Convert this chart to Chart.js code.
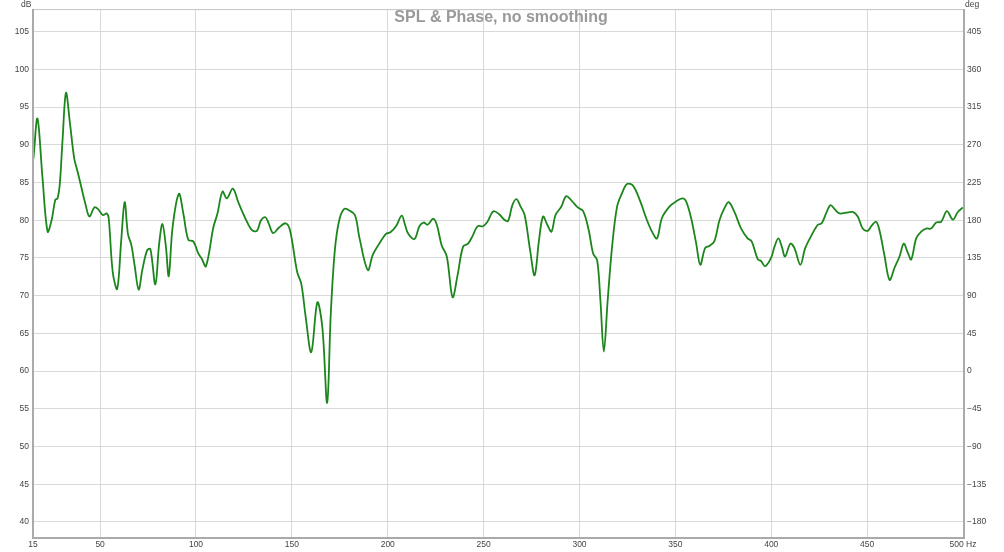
<!DOCTYPE html>
<html>
<head>
<meta charset="utf-8">
<script src="https://cdn.jsdelivr.net/npm/chart.js@4/dist/chart.umd.min.js"></script>
<style>
html,body{margin:0;padding:0;background:#fff;}
#wrap{width:1004px;height:552px;position:relative;}
</style>
</head>
<body>
<div id="wrap"><canvas id="c" width="1004" height="552"></canvas></div>
<script>
const freqHz = [15,15.2,17.3,19.9,22.6,24.7,26.6,27.8,29.0,30.4,32.2,34.3,36.5,38.3,40.0,42.3,44.4,47.0,48.8,51.4,53.5,54.5,56.6,58.9,61.0,62.8,64.5,66.3,68.0,70.1,72.0,74.5,76.2,78.8,80.8,82.5,84.3,85.8,87.8,91.1,93.4,96.0,98.6,101.2,103.0,105.2,109.1,111.2,113.8,116.1,119.2,122.2,126.2,129.2,131.8,133.9,136.2,137.9,140.2,143.2,146.7,149.0,152.8,154.9,157.2,160.1,163.3,165.9,168.4,170.3,172.4,174.7,177.3,179.9,182.9,185.3,189.6,192.2,195.1,199.1,201.4,204.3,207.3,209.0,210.7,213.9,216.5,218.7,220.8,223.7,225.6,228.1,230.8,233.8,236.4,239.3,241.9,244.2,246.8,249.7,252.0,255.1,258.1,260.7,262.7,265.0,267.1,269.3,271.4,274.2,276.6,278.9,281.0,283.2,285.4,287.5,290.5,293.1,296.2,299.1,301.9,304.8,307.1,309.2,310.9,312.7,314.7,317.0,319.6,322.2,324.8,327.9,331.4,335.2,337.8,340.4,343.0,346.9,350.3,353.8,355.6,358.2,360.8,363.0,365.5,367.7,370.3,373.0,375.6,377.8,380.8,384.3,387.7,389.8,393.0,394.7,396.8,399.9,401.7,403.7,405.5,407.2,410.0,412.1,415.2,417.7,420.8,424.3,426.3,428.6,430.9,433.3,435.6,439.0,442.5,445.1,447.7,450.3,452.4,454.7,456.4,459.0,461.7,464.3,466.9,469.1,471.2,473.0,475.6,478.2,480.8,483.4,486.0,488.6,491.6,494.7,497.3,499.9];
const splDb = [88.9,88.2,93.5,85.8,78.5,80.0,82.7,82.9,84.9,90.6,96.9,92.8,88.2,86.4,84.6,82.2,80.5,81.7,81.5,80.7,80.9,80.2,73.1,70.9,77.3,82.4,78.2,76.7,74.0,70.8,73.4,76.0,76.2,71.5,76.9,79.5,76.5,72.6,79.1,83.5,80.9,77.4,77.2,75.6,74.9,73.9,79.1,80.9,83.8,82.9,84.2,82.3,80.0,78.7,78.6,80.0,80.4,79.6,78.3,79.0,79.6,78.7,73.1,71.6,67.2,62.5,69.1,65.8,55.8,67.6,76.0,80.0,81.5,81.3,80.7,77.6,73.4,75.4,76.7,78.2,78.4,79.2,80.6,79.4,78.2,77.5,79.2,79.7,79.4,80.2,79.4,76.7,75.2,69.8,72.7,76.5,76.9,77.9,79.2,79.2,79.8,81.2,80.8,80.1,79.9,82.0,82.8,81.8,80.7,76.1,72.7,77.4,80.5,79.4,78.5,80.7,81.8,83.2,82.5,81.7,81.2,78.7,75.6,74.7,69.4,62.6,69.4,76.5,81.8,83.6,84.8,84.6,82.7,80.0,78.5,77.6,80.3,81.8,82.5,82.9,82.5,80.3,77.0,74.1,76.3,76.6,77.2,80.0,81.6,82.4,81.1,78.9,77.6,77.2,74.8,74.6,73.9,75.0,76.5,77.6,76.5,75.2,76.9,76.3,74.1,76.3,77.9,79.4,79.6,80.9,82.0,81.4,80.9,81.0,81.1,80.5,78.9,78.6,79.3,79.8,78.7,75.4,72.1,73.7,75.2,76.9,75.7,74.8,77.6,78.5,78.9,78.9,79.7,79.8,81.2,80.1,81.1,81.7];
const xTicks = [15,50,100,150,200,250,300,350,400,450,500];
const dbTicks = [40,45,50,55,60,65,70,75,80,85,90,95,100,105];
const degTicks = [-180,-135,-90,-45,0,45,90,135,180,225,270,315,360,405];
const titleText = 'SPL & Phase, no smoothing';

const points = freqHz.map((f,i)=>({x:f,y:splDb[i]}));
const FONT = {family:'"Liberation Sans", Arial, sans-serif', size:8.5};

const deco = {
  id:'deco',
  beforeDatasetsDraw(chart){
    const ctx = chart.ctx, a = chart.chartArea;
    ctx.save();
    ctx.fillStyle = '#999999';
    ctx.font = 'bold 16px "Liberation Sans", Arial, sans-serif';
    ctx.textAlign = 'center';
    ctx.textBaseline = 'middle';
    ctx.fillText(titleText, (a.left+a.right)/2 + 3, 18);
    ctx.restore();
  },
  afterDraw(chart){
    const ctx = chart.ctx, a = chart.chartArea;
    ctx.save();
    ctx.strokeStyle = '#c4c4c4';
    ctx.lineWidth = 1;
    ctx.strokeRect(a.left+0.5, a.top+0.5, a.right-a.left, a.bottom-a.top);
    ctx.strokeStyle = '#aaaaaa';
    ctx.lineWidth = 2;
    ctx.beginPath();
    ctx.moveTo(a.left, a.top); ctx.lineTo(a.left, a.bottom+1); ctx.lineTo(a.right+1, a.bottom+1); ctx.lineTo(a.right+1, a.top);
    ctx.stroke();
    ctx.fillStyle = '#444';
    ctx.font = '8.5px "Liberation Sans", Arial, sans-serif';
    ctx.textBaseline = 'top';
    ctx.textAlign = 'left';
    ctx.fillText('dB', 21, 0);
    ctx.fillText('deg', 965, 0);
    ctx.restore();
  }
};

new Chart(document.getElementById('c'), {
  type:'line',
  data:{datasets:[{
    data:points,
    borderColor:'#1c861c',
    borderWidth:1.8,
    pointRadius:0,
    tension:0.35,
    fill:false,
    yAxisID:'y'
  }]},
  options:{
    responsive:false,
    animation:false,
    events:[],
    layout:{padding:{top:9,left:0,right:0,bottom:0}},
    plugins:{legend:{display:false},tooltip:{enabled:false},title:{display:false}},
    scales:{
      x:{
        type:'linear', min:15, max:500,
        afterBuildTicks(s){ s.ticks = xTicks.map(v=>({value:v})); },
        afterFit(s){ s.height = 15; },
        grid:{color:'#d9d9d9', lineWidth:1, drawTicks:false},
        border:{display:false},
        ticks:{font:FONT, color:'#444', padding:3, maxRotation:0, autoSkip:false,
          callback:(v)=> v===500 ? '500 Hz' : String(v)}
      },
      y:{
        type:'linear', position:'left', min:38, max:108,
        afterBuildTicks(s){ s.ticks = dbTicks.map(v=>({value:v})); },
        afterFit(s){ s.width = 33; },
        grid:{color:'#d9d9d9', lineWidth:1, drawTicks:false},
        border:{display:false},
        ticks:{font:FONT, color:'#444', padding:4, autoSkip:false}
      },
      y2:{
        type:'linear', position:'right', min:-198, max:432,
        afterBuildTicks(s){ s.ticks = degTicks.map(v=>({value:v})); },
        afterFit(s){ s.width = 41; },
        grid:{display:false, drawTicks:false},
        border:{display:false},
        ticks:{font:FONT, color:'#444', padding:4, autoSkip:false,
          callback:(v)=> v<0 ? '\u2212'+Math.abs(v) : String(v)}
      }
    }
  },
  plugins:[deco]
});
</script>
</body>
</html>
